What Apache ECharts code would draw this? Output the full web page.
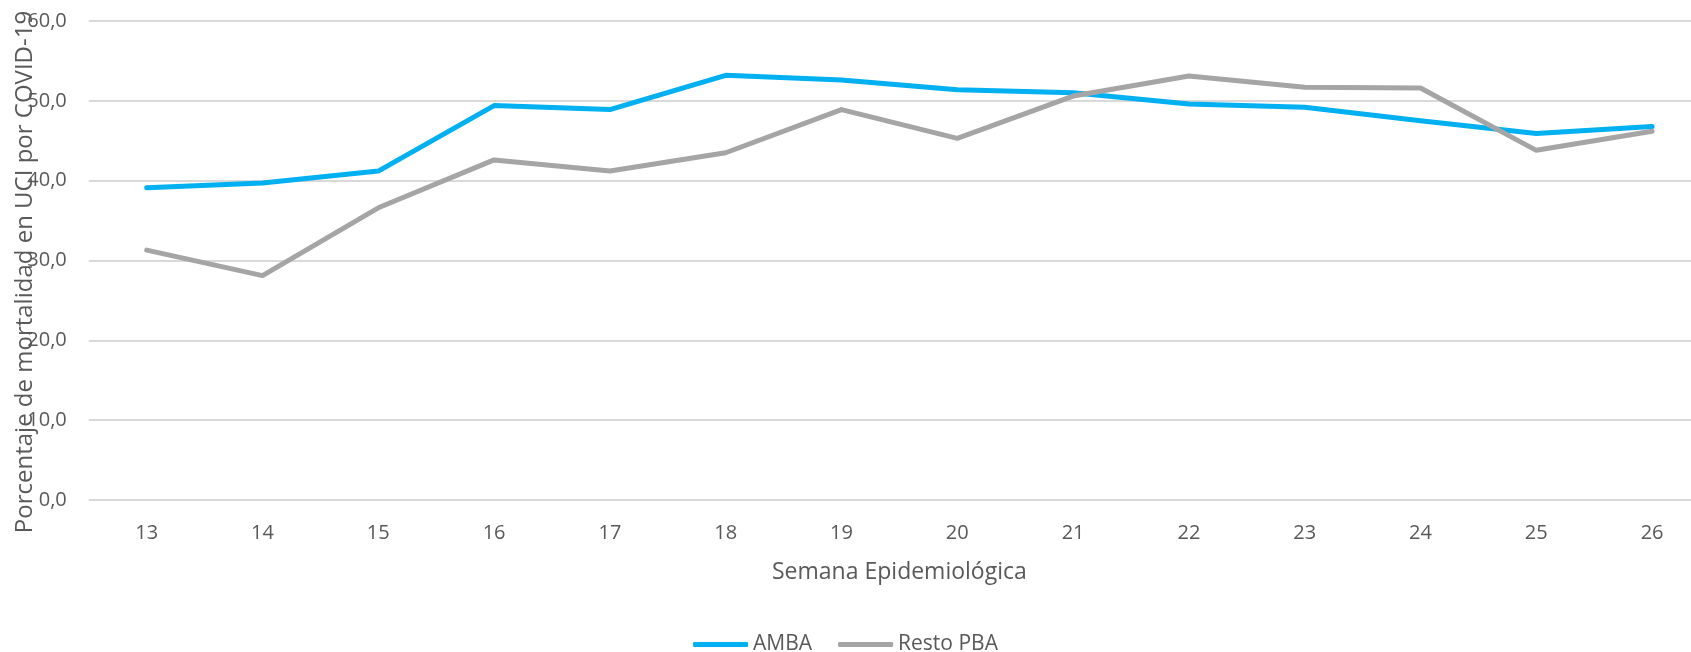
<!DOCTYPE html>
<html>
<head>
<meta charset="utf-8">
<title>Mortalidad en UCI por COVID-19</title>
<script src="https://cdn.jsdelivr.net/npm/echarts@6/dist/echarts.min.js"></script>
<style>
  html, body { margin: 0; padding: 0; background: #ffffff; }
  #chart { width: 1691px; height: 652px; }
</style>
</head>
<body>
<div id="chart"></div>
<script>
// Semanas epidemiológicas (eje X)
const semanas = ['13', '14', '15', '16', '17', '18', '19', '20', '21', '22', '23', '24', '25', '26'];

// Porcentaje de mortalidad en UCI por COVID-19, por región
const amba = [39.1, 39.7, 41.2, 49.4, 48.9, 53.2, 52.6, 51.4, 51.0, 49.6, 49.2, 47.5, 45.9, 46.8];
const restoPba = [31.3, 28.1, 36.6, 42.6, 41.2, 43.5, 48.9, 45.3, 50.6, 53.1, 51.7, 51.6, 43.8, 46.2];

// Marcas del eje Y
const yMin = 0;
const yMax = 60;
const yStep = 10;

const textColor = '#595959';
const fontFamily = '"Open Sans", "Noto Sans", sans-serif';

const chart = echarts.init(document.getElementById('chart'), null, { renderer: 'canvas' });

chart.setOption({
  backgroundColor: '#ffffff',
  animation: false,
  textStyle: { fontFamily: fontFamily, color: textColor },
  grid: {
    left: 88.8,
    right: -19,
    top: 21,
    bottom: 152,
    containLabel: false,
    outerBoundsMode: 'none'
  },
  legend: {
    left: 'center',
    top: 629,
    itemWidth: 55,
    itemHeight: 5,
    itemGap: 26,
    icon: 'roundRect',
    textStyle: { fontFamily: fontFamily, fontSize: 21, color: textColor, lineHeight: 21 },
    data: ['AMBA', 'Resto PBA']
  },
  xAxis: {
    type: 'category',
    data: semanas,
    boundaryGap: true,
    axisLine: { show: false },
    axisTick: { show: false },
    axisLabel: {
      color: textColor,
      fontFamily: fontFamily,
      fontSize: 20,
      lineHeight: 20,
      margin: 23
    },
    name: 'Semana Epidemiológica',
    nameLocation: 'middle',
    nameGap: 61,
    nameMoveOverlap: false,
    nameTextStyle: { fontFamily: fontFamily, fontSize: 23, lineHeight: 23, color: textColor }
  },
  yAxis: {
    type: 'value',
    min: yMin,
    max: yMax,
    interval: yStep,
    axisLine: { show: false },
    axisTick: { show: false },
    splitLine: { show: true, lineStyle: { color: '#D9D9D9', width: 2 } },
    axisLabel: {
      color: textColor,
      fontFamily: fontFamily,
      fontSize: 20,
      margin: 22,
      formatter: function (v) { return v.toFixed(1).replace('.', ','); }
    },
    name: 'Porcentaje de mortalidad en UCI por COVID-19',
    nameLocation: 'middle',
    nameGap: 52,
    nameRotate: 90,
    nameMoveOverlap: false,
    nameTextStyle: { fontFamily: fontFamily, fontSize: 24, lineHeight: 24, color: textColor, padding: [0, 23, 0, 0] }
  },
  series: [
    {
      name: 'AMBA',
      type: 'line',
      data: amba,
      symbol: 'none',
      smooth: false,
      color: '#00B0F0',
      lineStyle: { color: '#00B0F0', width: 5, cap: 'round', join: 'round' },
      z: 3
    },
    {
      name: 'Resto PBA',
      type: 'line',
      data: restoPba,
      symbol: 'none',
      smooth: false,
      color: '#A5A5A5',
      lineStyle: { color: '#A5A5A5', width: 5, cap: 'round', join: 'round' },
      z: 4
    }
  ]
});
</script>
</body>
</html>
